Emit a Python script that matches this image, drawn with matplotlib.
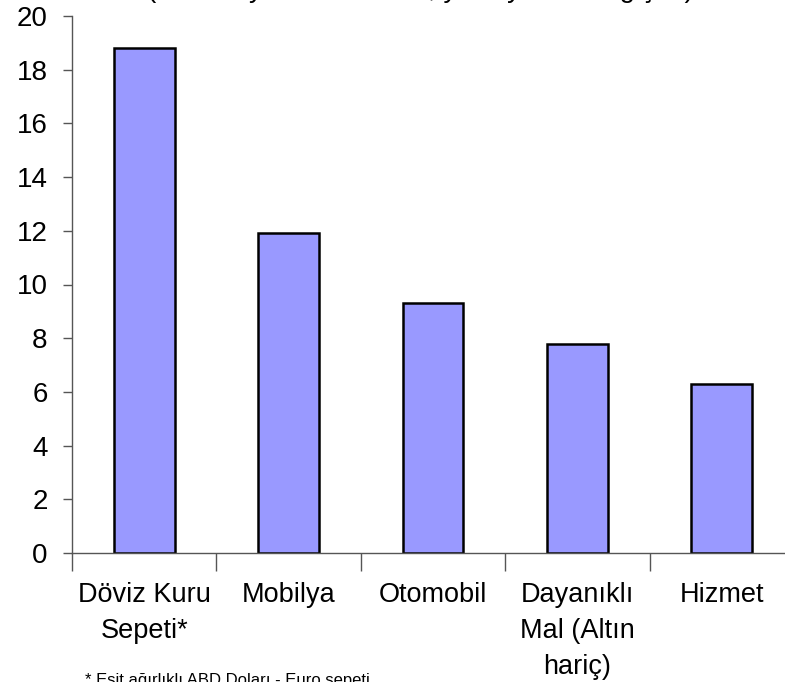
import numpy as np
import matplotlib
matplotlib.use("Agg")
import matplotlib.pyplot as plt

# ----- Datos -----
categorias = ["Döviz Kuru\nSepeti*", "Mobilya", "Otomobil", "Dayanıklı\nMal (Altın\nhariç)", "Hizmet"]
valores = [18.8, 11.9, 9.3, 7.8, 6.3]
titulo = "(Ocak-Eylül ortalaması, yıllık yüzde değişim)"
nota = "* Eşit ağırlıklı ABD Doları - Euro sepeti"

plt.rcParams["font.family"] = ["Liberation Sans", "DejaVu Sans"]

fig = plt.figure(figsize=(7.85, 6.82), dpi=100)
ax = fig.add_axes([72 / 785, 129 / 682, 722 / 785, 537 / 682])

x = np.arange(len(categorias))
ax.bar(x, valores, width=0.42, color="#9999ff", edgecolor="black", linewidth=1.8, zorder=2)

ax.set_xlim(-0.5, len(categorias) - 0.5)
ax.set_ylim(0, 20)
ax.set_yticks(np.arange(0, 21, 2))
ax.tick_params(axis="y", labelsize=20, length=6.5, width=1, pad=11, color="#555555")

# marcas en los límites de categoría, etiquetas en el centro
ax.set_xticks(np.arange(-0.5, len(categorias)), labels=[""] * (len(categorias) + 1))
ax.tick_params(axis="x", which="major", length=13, width=1, color="#555555")
ax.set_xticks(x, labels=categorias, minor=True)
ax.tick_params(axis="x", which="minor", length=0, labelsize=19.5, pad=21)
for t in ax.get_xticklabels(minor=True):
    t.set_linespacing(1.5)

for s in ["top", "right"]:
    ax.spines[s].set_visible(False)
for s in ["left", "bottom"]:
    ax.spines[s].set_color("#555555")
    ax.spines[s].set_linewidth(1)

fig.text(0.535, 1 + 3 / 682, titulo, ha="center", va="baseline", fontsize=20)
fig.text(85 / 785, -3 / 682, nota, ha="left", va="baseline", fontsize=12)

fig.savefig("out.png", dpi=100)
print("Gráfico guardado en out.png")
